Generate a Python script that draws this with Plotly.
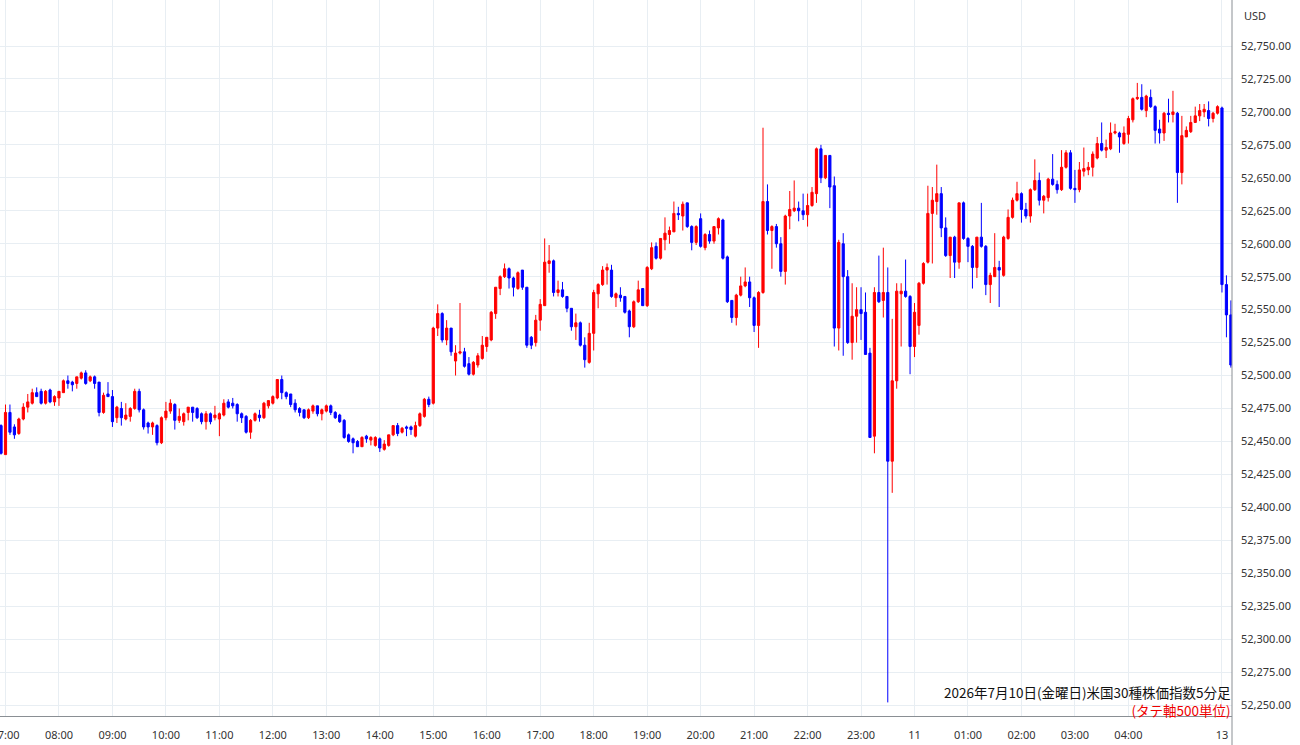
import pandas as pd
import plotly.graph_objects as go

# ---- data ----
opens = [52462, 52440, 52472, 52461, 52456, 52467, 52476, 52479, 52487, 52488,
         52479, 52489, 52480, 52483, 52487, 52496, 52495, 52494, 52498, 52502,
         52496, 52499, 52495, 52472, 52486, 52484, 52468, 52475, 52467, 52469,
         52475, 52488, 52474, 52464, 52461, 52462, 52449, 52468, 52473, 52478,
         52466, 52465, 52472, 52476, 52475, 52471, 52465, 52471, 52468, 52467,
         52470, 52480, 52479, 52478, 52471, 52469, 52457, 52466, 52470, 52468,
         52477, 52479, 52483, 52497, 52487, 52486, 52479, 52475, 52474, 52468,
         52473, 52477, 52471, 52473, 52477, 52472, 52470, 52466, 52455, 52452,
         52450, 52446, 52454, 52451, 52447, 52452, 52444, 52447, 52455, 52462,
         52457, 52461, 52461, 52454, 52462, 52469, 52482, 52479, 52536, 52547,
         52527, 52536, 52511, 52517, 52518, 52509, 52501, 52508, 52513, 52522,
         52527, 52547, 52566, 52575, 52581, 52574, 52566, 52580, 52567, 52529,
         52525, 52542, 52553, 52585, 52587, 52563, 52565, 52560, 52551, 52537,
         52540, 52523, 52510, 52532, 52562, 52569, 52580, 52580, 52559, 52561,
         52560, 52549, 52537, 52556, 52566, 52553, 52581, 52598, 52589, 52603,
         52607, 52609, 52623, 52621, 52631, 52613, 52601, 52619, 52597, 52607,
         52602, 52612, 52618, 52590, 52557, 52544, 52561, 52568, 52571, 52559,
         52538, 52563, 52632, 52610, 52613, 52600, 52579, 52621, 52625, 52627,
         52625, 52622, 52629, 52638, 52672, 52650, 52667, 52644, 52536, 52600,
         52575, 52525, 52545, 52550, 52548, 52517, 52454, 52563, 52557, 52563,
         52435, 52496, 52562, 52564, 52560, 52522, 52538, 52570, 52586, 52623,
         52632, 52638, 52612, 52591, 52605, 52586, 52631, 52604, 52598, 52582,
         52605, 52598, 52569, 52575, 52582, 52576, 52604, 52620, 52633, 52638,
         52626, 52621, 52641, 52648, 52633, 52635, 52649, 52645, 52641, 52658,
         52669, 52642, 52641, 52655, 52656, 52658, 52665, 52676, 52671, 52672,
         52684, 52684, 52676, 52683, 52694, 52710, 52711, 52701, 52711, 52704,
         52687, 52684, 52699, 52698, 52699, 52654, 52681, 52685, 52692, 52697,
         52700, 52701, 52695, 52699, 52703, 52569, 52546]
highs = [52463, 52478, 52478, 52463, 52468, 52479, 52486, 52490, 52491, 52490,
         52489, 52490, 52485, 52488, 52497, 52500, 52496, 52499, 52503, 52504,
         52500, 52500, 52495, 52487, 52495, 52489, 52477, 52480, 52479, 52476,
         52490, 52490, 52475, 52465, 52465, 52463, 52469, 52480, 52482, 52479,
         52475, 52472, 52476, 52476, 52476, 52472, 52473, 52472, 52477, 52472,
         52482, 52482, 52483, 52479, 52472, 52470, 52467, 52472, 52474, 52480,
         52481, 52485, 52497, 52500, 52488, 52486, 52482, 52476, 52474, 52475,
         52478, 52477, 52475, 52478, 52478, 52473, 52471, 52467, 52456, 52453,
         52451, 52454, 52455, 52454, 52454, 52453, 52451, 52455, 52462, 52464,
         52461, 52462, 52462, 52465, 52472, 52483, 52484, 52537, 52554, 52548,
         52542, 52536, 52523, 52555, 52521, 52514, 52511, 52517, 52530, 52529,
         52549, 52567, 52576, 52585, 52582, 52575, 52579, 52580, 52567, 52530,
         52546, 52558, 52604, 52599, 52588, 52572, 52571, 52560, 52551, 52547,
         52541, 52529, 52540, 52565, 52570, 52583, 52585, 52584, 52563, 52567,
         52560, 52550, 52557, 52572, 52566, 52583, 52601, 52601, 52604, 52620,
         52613, 52632, 52628, 52632, 52631, 52614, 52614, 52623, 52608, 52610,
         52613, 52620, 52619, 52591, 52557, 52562, 52575, 52582, 52575, 52560,
         52564, 52688, 52645, 52614, 52615, 52605, 52622, 52640, 52648, 52632,
         52638, 52638, 52643, 52673, 52675, 52667, 52667, 52651, 52603, 52608,
         52580, 52570, 52567, 52567, 52563, 52521, 52567, 52591, 52597, 52582,
         52543, 52570, 52570, 52588, 52561, 52555, 52571, 52586, 52644, 52643,
         52660, 52643, 52620, 52605, 52606, 52631, 52632, 52605, 52599, 52605,
         52631, 52599, 52578, 52608, 52587, 52606, 52626, 52635, 52647, 52639,
         52631, 52642, 52664, 52654, 52637, 52650, 52668, 52648, 52671, 52671,
         52671, 52656, 52662, 52673, 52662, 52670, 52681, 52692, 52679, 52692,
         52691, 52685, 52689, 52697, 52711, 52722, 52721, 52713, 52717, 52705,
         52694, 52700, 52710, 52716, 52700, 52697, 52689, 52697, 52704, 52706,
         52706, 52708, 52700, 52705, 52704, 52576, 52557]
lows = [52440, 52440, 52455, 52452, 52455, 52466, 52472, 52478, 52484, 52478,
        52478, 52479, 52477, 52477, 52487, 52490, 52488, 52490, 52497, 52493,
        52495, 52490, 52469, 52471, 52484, 52461, 52464, 52462, 52466, 52465,
        52474, 52472, 52459, 52456, 52455, 52447, 52448, 52466, 52471, 52459,
        52464, 52462, 52466, 52465, 52467, 52463, 52459, 52463, 52466, 52454,
        52469, 52475, 52475, 52465, 52464, 52456, 52452, 52465, 52465, 52467,
        52475, 52478, 52482, 52482, 52482, 52476, 52472, 52469, 52467, 52467,
        52471, 52469, 52466, 52472, 52470, 52467, 52464, 52452, 52449, 52441,
        52446, 52446, 52449, 52447, 52446, 52442, 52443, 52446, 52454, 52454,
        52456, 52454, 52455, 52453, 52461, 52468, 52476, 52478, 52530, 52525,
        52523, 52515, 52500, 52516, 52506, 52500, 52500, 52506, 52512, 52518,
        52526, 52543, 52561, 52574, 52566, 52560, 52565, 52565, 52521, 52520,
        52522, 52534, 52553, 52578, 52560, 52560, 52559, 52548, 52534, 52527,
        52522, 52506, 52509, 52519, 52551, 52568, 52569, 52559, 52552, 52556,
        52547, 52529, 52536, 52555, 52553, 52552, 52580, 52588, 52588, 52595,
        52600, 52609, 52618, 52610, 52612, 52595, 52599, 52597, 52595, 52600,
        52600, 52607, 52588, 52555, 52540, 52538, 52560, 52567, 52552, 52533,
        52521, 52562, 52607, 52581, 52597, 52575, 52569, 52611, 52624, 52617,
        52618, 52613, 52628, 52631, 52646, 52649, 52627, 52522, 52519, 52515,
        52524, 52512, 52525, 52527, 52516, 52453, 52441, 52555, 52544, 52252,
        52411, 52490, 52522, 52559, 52501, 52514, 52531, 52569, 52585, 52585,
        52622, 52605, 52590, 52574, 52574, 52581, 52603, 52586, 52566, 52574,
        52597, 52561, 52555, 52575, 52552, 52575, 52603, 52619, 52632, 52616,
        52619, 52616, 52640, 52629, 52623, 52632, 52644, 52638, 52640, 52657,
        52641, 52631, 52639, 52651, 52652, 52651, 52664, 52670, 52665, 52671,
        52683, 52669, 52675, 52676, 52692, 52709, 52701, 52696, 52703, 52676,
        52676, 52678, 52692, 52692, 52631, 52645, 52681, 52684, 52692, 52693,
        52696, 52689, 52692, 52698, 52563, 52529, 52506]
closes = [52441, 52472, 52457, 52455, 52467, 52476, 52480, 52487, 52484, 52479,
          52488, 52480, 52484, 52488, 52496, 52494, 52493, 52499, 52502, 52494,
          52499, 52494, 52472, 52485, 52484, 52465, 52476, 52468, 52470, 52475,
          52488, 52474, 52461, 52461, 52464, 52449, 52468, 52473, 52479, 52466,
          52469, 52471, 52476, 52472, 52468, 52465, 52471, 52465, 52470, 52471,
          52479, 52476, 52477, 52471, 52468, 52457, 52466, 52471, 52468, 52479,
          52481, 52484, 52497, 52487, 52484, 52478, 52474, 52472, 52468, 52474,
          52477, 52471, 52474, 52477, 52472, 52468, 52465, 52453, 52450, 52449,
          52446, 52453, 52452, 52453, 52453, 52445, 52448, 52455, 52462, 52456,
          52460, 52460, 52459, 52462, 52471, 52482, 52478, 52536, 52547, 52527,
          52536, 52518, 52517, 52518, 52507, 52501, 52510, 52515, 52523, 52529,
          52548, 52567, 52575, 52581, 52574, 52567, 52578, 52567, 52523, 52523,
          52542, 52554, 52586, 52587, 52563, 52565, 52560, 52551, 52537, 52540,
          52523, 52512, 52532, 52563, 52569, 52580, 52582, 52560, 52562, 52559,
          52548, 52537, 52556, 52565, 52553, 52582, 52597, 52589, 52604, 52608,
          52610, 52623, 52622, 52630, 52613, 52601, 52613, 52598, 52607, 52602,
          52613, 52619, 52589, 52556, 52544, 52561, 52568, 52571, 52559, 52538,
          52563, 52632, 52610, 52613, 52600, 52579, 52621, 52626, 52627, 52625,
          52622, 52629, 52639, 52672, 52650, 52667, 52643, 52536, 52601, 52575,
          52525, 52545, 52550, 52547, 52516, 52453, 52563, 52556, 52563, 52435,
          52496, 52564, 52564, 52560, 52522, 52548, 52570, 52585, 52623, 52633,
          52638, 52612, 52591, 52605, 52586, 52631, 52604, 52598, 52582, 52605,
          52598, 52569, 52576, 52582, 52580, 52605, 52620, 52633, 52638, 52626,
          52621, 52641, 52648, 52633, 52636, 52649, 52645, 52641, 52658, 52669,
          52642, 52641, 52656, 52657, 52658, 52668, 52676, 52671, 52673, 52684,
          52685, 52681, 52684, 52695, 52710, 52711, 52702, 52712, 52704, 52686,
          52684, 52699, 52698, 52700, 52654, 52682, 52686, 52692, 52697, 52701,
          52702, 52695, 52699, 52704, 52569, 52546, 52508]

# bar timestamps (5-minute bars; weekend gap skipped)
times = (list(pd.date_range("2026-07-10 06:55", "2026-07-10 23:55", freq="5min"))
         + list(pd.date_range("2026-07-11 00:00", "2026-07-11 05:40", freq="5min"))
         + list(pd.date_range("2026-07-13 07:00", periods=3, freq="5min")))
cats = [t.strftime("%m-%d %H:%M") for t in times]

tick_cats = (["07-10 %02d:00" % h for h in range(7, 24)]
             + ["07-11 %02d:00" % h for h in range(0, 5)]
             + ["07-13 07:00"])
tick_labels = (["%02d:00" % h for h in range(7, 24)]
               + ["11", "01:00", "02:00", "03:00", "04:00", "13"])

y_ticks = list(range(52250, 52751, 25))

title_line1 = "2026年7月10日(金曜日)米国30種株価指数5分足"
title_line2 = "(タテ軸500単位)"

RED = "#ff0000"
BLUE = "#0000ff"
GRID = "#e8eef3"
AXIS = "#8a8f94"
TXT = "#333333"

fig = go.Figure(go.Candlestick(
    x=cats, open=opens, high=highs, low=lows, close=closes,
    increasing=dict(line=dict(color=RED, width=1), fillcolor=RED),
    decreasing=dict(line=dict(color=BLUE, width=1), fillcolor=BLUE),
    whiskerwidth=0, hoverinfo="skip", showlegend=False,
))

PLOT_W = 1232
PLOT_H = 716

fig.update_layout(
    width=1300, height=745,
    margin=dict(l=0, r=1300 - PLOT_W, t=0, b=745 - PLOT_H, pad=0),
    paper_bgcolor="white", plot_bgcolor="white",
    font=dict(family="Noto Sans, Arial, sans-serif", size=11, color=TXT),
    xaxis=dict(
        type="category", categoryorder="array", categoryarray=cats,
        range=[-0.234, 276.25], rangeslider=dict(visible=False),
        tickmode="array", tickvals=tick_cats, ticktext=tick_labels,
        showgrid=True, gridcolor=GRID, gridwidth=1,
        showline=True, linecolor=AXIS, linewidth=1, mirror=False,
        ticks="", tickfont=dict(size=11, color=TXT), automargin=False,
        ticklabelstandoff=9, zeroline=False, fixedrange=True,
    ),
    yaxis=dict(
        side="right", range=[52241.7, 52784.9],
        tickmode="array", tickvals=y_ticks,
        ticktext=["{:,.2f}".format(v) for v in y_ticks],
        showgrid=True, gridcolor=GRID, gridwidth=1,
        showline=False, ticks="", tickfont=dict(size=11, color=TXT),
        automargin=False, ticklabelstandoff=8, zeroline=False, fixedrange=True,
    ),
    annotations=[
        dict(text=(title_line1 + "<br><span style='color:#ee0000'>"
                   + title_line2 + "</span>"),
             xref="paper", yref="paper", x=1233 / PLOT_W,
             y=(PLOT_H - 700.5) / PLOT_H, xanchor="right", yanchor="middle",
             align="right", showarrow=False,
             font=dict(family="Noto Sans CJK JP", size=13.5, color="#111111")),
        dict(text="USD", xref="paper", yref="paper", x=1242 / PLOT_W,
             y=(PLOT_H - 16) / PLOT_H, xanchor="left", yanchor="middle",
             showarrow=False, font=dict(size=11, color=TXT)),
    ],
    shapes=[
        dict(type="line", xref="paper", yref="paper", x0=1, x1=1,
             y0=-(745 - PLOT_H) / PLOT_H, y1=1,
             line=dict(color=AXIS, width=1)),
    ],
)

fig.write_html("out.html")
